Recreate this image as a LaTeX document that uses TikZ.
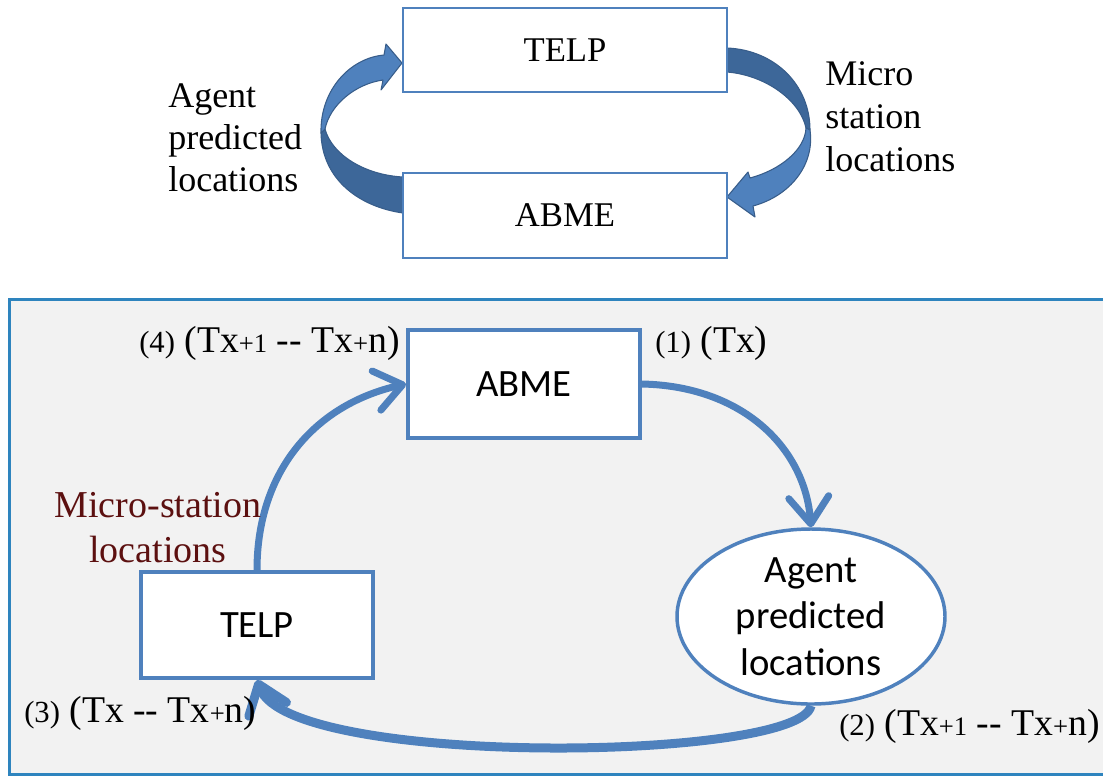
\documentclass[tikz,border=0pt]{standalone}
\usepackage{fontspec}
\setmainfont{Liberation Serif}
\newfontfamily\calfont{Carlito}
\usetikzlibrary{arrows.meta,shapes.geometric}

\definecolor{boxblue}{HTML}{4F81BD}
\definecolor{frameblue}{HTML}{2E84BE}
\definecolor{panelgray}{HTML}{F2F2F2}
\definecolor{ribbonfront}{HTML}{4F81BD}
\definecolor{ribbonback}{HTML}{3D6799}
\definecolor{ribbonline}{HTML}{385D8A}
\definecolor{labelred}{HTML}{5C1010}

% smaller pieces inside the time-step labels
\newcommand{\stepno}[1]{{\fontsize{23}{27}\selectfont #1}}
\newcommand{\lowsz}[1]{{\fontsize{20}{22}\selectfont #1}}

\begin{document}
\begin{tikzpicture}[x=0.75pt,y=-0.75pt,
  topbox/.style={draw=boxblue,line width=2.2pt,fill=white,minimum width=243pt,
    minimum height=63pt,inner sep=0pt,font={\fontsize{26}{30}\selectfont}},
  flowbox/.style={draw=boxblue,line width=3pt,fill=white,minimum width=174pt,
    inner sep=0pt,font={\calfont\fontsize{29}{35}\selectfont}},
  sidetext/.style={anchor=base west,inner sep=0pt,font={\fontsize{27}{32}\selectfont}},
  steptext/.style={anchor=base west,inner sep=0pt,font={\fontsize{28.3}{32}\selectfont}},
  redtext/.style={anchor=base,inner sep=0pt,text=labelred,font={\fontsize{28.5}{34}\selectfont}},
  flow/.style={draw=boxblue,line width=5.25pt,-{Straight Barb[length=20pt,width=30pt,round]}},
  ribback/.style={fill=ribbonback,draw=ribbonline,line width=0.8pt,line join=round},
  ribfront/.style={fill=ribbonfront,draw=ribbonline,line width=0.8pt,line join=round},
]
\useasboundingbox (0,0) rectangle (1103,776);

% ---------- upper cycle ----------
% left curved block arrow: ABME -> TELP
\filldraw[ribback] (403,213) .. controls (360,207) and (322,180) .. (321,133)
  -- (325,129) .. controls (332,155) and (365,175) .. (403,177) -- cycle;
\filldraw[ribfront] (321,133) .. controls (320,90) and (350,58) .. (384,55)
  -- (386,44) -- (402,63) -- (381,90) -- (383,80)
  .. controls (355,84) and (330,105) .. (325,129) -- cycle;
% right curved block arrow: TELP -> ABME
\filldraw[ribback] (727,48) .. controls (775,50) and (810,85) .. (810,130)
  -- (806,128) .. controls (800,100) and (765,75) .. (727,72) -- cycle;
\filldraw[ribfront] (810,130) .. controls (815,165) and (790,196) .. (753,206)
  -- (755,217) -- (727,197) -- (748,172) -- (750,178)
  .. controls (780,170) and (805,150) .. (806,128) -- cycle;

\node[topbox] (topTelp) at (565,50) {TELP};
\node[topbox,minimum height=63.75pt] (topAbme) at (565,215.5) {ABME};

\node[sidetext] (agl1) at (168,107) {Agent};
\node[sidetext] (agl2) at (168,149) {predicted};
\node[sidetext] (agl3) at (168,191) {locations};
\node[sidetext] (msl1) at (825,85) {Micro};
\node[sidetext] (msl2) at (825,128) {station};
\node[sidetext] (msl3) at (825,171) {locations};

% ---------- lower cycle ----------
\draw[draw=frameblue,fill=panelgray,line width=2.25pt] (9,299) rectangle (1125,774);

\node[flowbox,minimum height=81pt] (botAbme) at (524,384) {ABME};
\node[flowbox,minimum height=79.5pt] (botTelp) at (257,625) {TELP};
\node[draw=boxblue,line width=2.6pt,fill=white,ellipse,minimum width=201pt,
  minimum height=131.25pt,inner sep=0pt,align=center,
  font={\calfont\fontsize{29}{35}\selectfont}] (agentEll) at (811,616.5)
  {Agent\\predicted\\locations};

\draw[flow] (botAbme.east) .. controls +(100,2) and +(-6,-80) .. (agentEll.north);
\draw[flow] (botTelp.north) .. controls +(0,-100) and +(-90,20) .. (botAbme.west);
\draw[flow,line width=6.75pt] (agentEll.south) .. controls +(-11,56) and +(32,88) .. (botTelp.south);

\node[steptext] (st4) at (139,352) {\stepno{(4)} (Tx\lowsz{+1} -{}- Tx\lowsz{+}n)};
\node[steptext] (st1) at (655,352) {\stepno{(1)} (Tx)};
\node[steptext] (st2) at (839,735) {\stepno{(2)} (Tx\lowsz{+1} -{}- Tx\lowsz{+}n)};
\node[steptext] (st3) at (24,722) {\stepno{(3)} (Tx -{}- Tx\lowsz{+}n)};

\node[redtext] (mred1) at (158,517) {Micro-station};
\node[redtext] (mred2) at (158,562) {locations};
\end{tikzpicture}
\end{document}
